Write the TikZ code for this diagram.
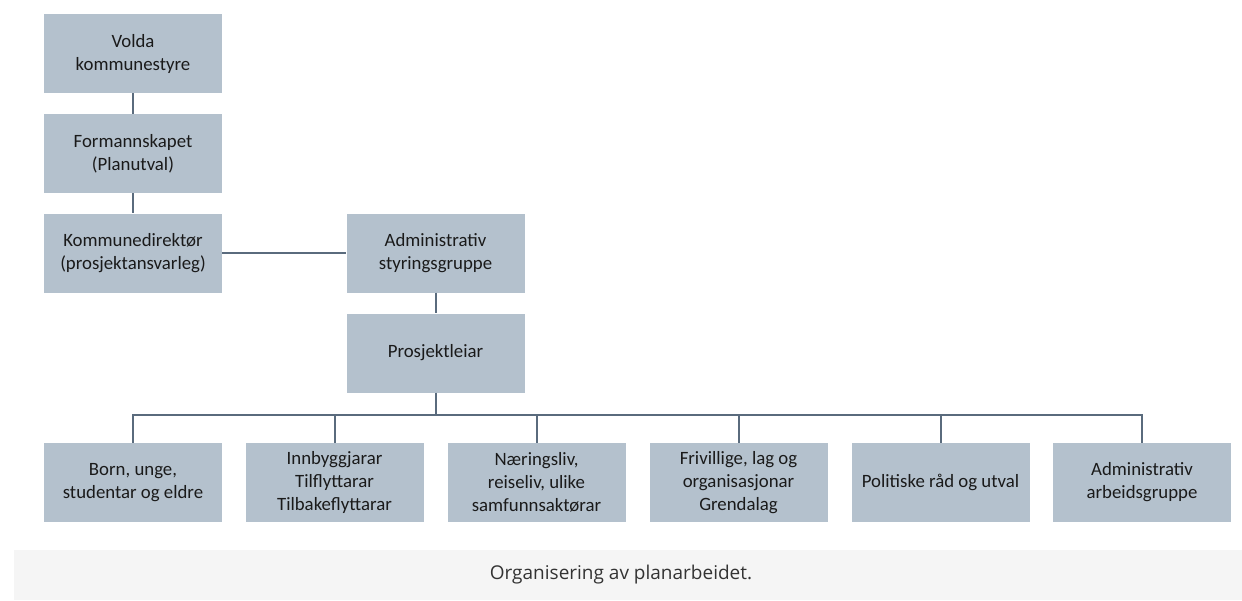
\documentclass[tikz,border=0pt]{standalone}
\usepackage{fontspec}
\setmainfont{Carlito}
\newfontfamily\capfont{Open Sans}
\definecolor{boxfill}{RGB}{180,193,205}
\definecolor{linecol}{RGB}{90,107,125}
\definecolor{bandcol}{RGB}{245,245,245}
\definecolor{txtcol}{RGB}{26,26,26}
\definecolor{captxt}{RGB}{51,51,51}
\tikzset{
  orgbox/.style={fill=boxfill, draw=none, minimum width=178pt, minimum height=79pt, inner sep=0pt,
    align=center, text=txtcol, font=\fontsize{18.8}{23}\selectfont},
  conn/.style={draw=linecol, line width=2pt}
}
\begin{document}
\begin{tikzpicture}[x=1pt,y=-1pt]
\useasboundingbox (0,0) rectangle (1242,600);
\fill[bandcol] (14,550) rectangle (1242,600);
\node[font=\capfont\fontsize{19}{23}\selectfont, text=captxt] (cap) at (621,575) {Organisering av planarbeidet.};
\node[orgbox] (v) at (133,53.5) {Volda\\kommunestyre};
\node[orgbox] (f) at (133,153.5) {Formannskapet\\(Planutval)};
\node[orgbox] (k) at (133,253) {Kommunedirektør\\(prosjektansvarleg)};
\node[orgbox] (a) at (435.5,253) {Administrativ\\styringsgruppe};
\node[orgbox] (p) at (435.5,353) {Prosjektleiar};
\node[orgbox] (b1) at (133,482.5) {Born, unge,\\studentar og eldre};
\node[orgbox] (b2) at (334.5,482.5) {Innbyggjarar\\Tilflyttarar\\Tilbakeflyttarar};
\node[orgbox] (b3) at (536.5,482.5) {Næringsliv,\\reiseliv, ulike\\samfunnsaktørar};
\node[orgbox] (b4) at (738.5,482.5) {Frivillige, lag og\\organisasjonar\\Grendalag};
\node[orgbox] (b5) at (940.5,482.5) {Politiske råd og utval};
\node[orgbox] (b6) at (1142,482.5) {Administrativ\\arbeidsgruppe};
\coordinate (bus) at (0,415);
\draw[conn] (v) -- (f);
\draw[conn] (f) -- (k);
\draw[conn] (k) -- (a);
\draw[conn] (a) -- (p);
\draw[conn] (p.south) -- (p.south |- bus);
\draw[conn] (b1.north) -- (b1.north |- bus) -- (b6.north |- bus) -- (b6.north);
\draw[conn] (b2.north) -- (b2.north |- bus);
\draw[conn] (b3.north) -- (b3.north |- bus);
\draw[conn] (b4.north) -- (b4.north |- bus);
\draw[conn] (b5.north) -- (b5.north |- bus);
\end{tikzpicture}
\end{document}
